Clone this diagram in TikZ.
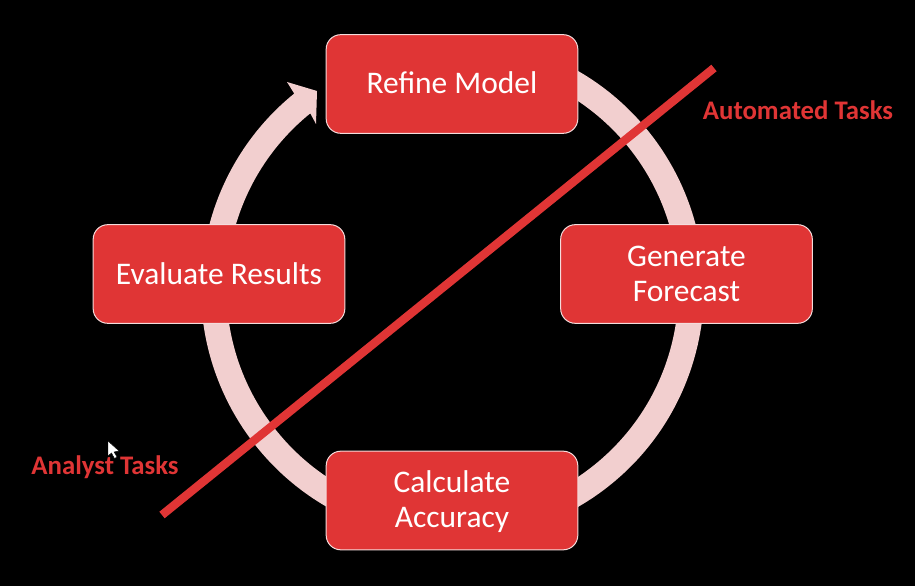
\documentclass[tikz,border=0pt]{standalone}
\usepackage{fontspec}
\setmainfont{Carlito}
\usetikzlibrary{calc}
\definecolor{boxred}{HTML}{E03535}
\definecolor{ringpink}{HTML}{F2CFCF}
\definecolor{edgepink}{HTML}{F4DCDC}
\tikzset{
  stagebox/.style={draw=edgepink,line width=0.75pt,fill=boxred,rounded corners=11pt,minimum width=188.75pt,minimum height=74pt,inner sep=0pt},
  stagetext/.style={inner sep=0pt,align=center,text=white,font=\fontsize{23.6pt}{26.4pt}\selectfont},
  tasklabel/.style={text=boxred,font=\bfseries\fontsize{20.1pt}{23pt}\selectfont,inner sep=0pt},
  divider/.style={draw=boxred,line width=6.3pt}
}
\begin{document}
\begin{tikzpicture}[x=0.75pt,y=0.75pt]
\useasboundingbox[fill=black] (0,0) rectangle (915,586);
\coordinate (c) at (452.5,297);
% ring with arrowhead
\fill[ringpink] ($(c)+(75:251.5)$) arc[start angle=75,end angle=-231,radius=251.5] -- (287,504) -- (317,495) -- (316,462) -- ($(c)+(-231:226)$) arc[start angle=-231,end angle=75,radius=226] -- cycle;
% stages
\node[stagebox] (refine) at (452,502) {};
\node[stagebox] (forecast) at (686.5,312) {};
\node[stagebox] (accuracy) at (452,85.5) {};
\node[stagebox] (evaluate) at (219,312) {};
\node[stagetext] at (452,503) {Refine Model};
\node[stagetext] at (686.5,312) {Generate\\Forecast};
\node[stagetext] at (452,84.5) {Calculate\\Accuracy};
\node[stagetext] at (219,312.5) {Evaluate Results};
% divider
\coordinate (dividerlow) at (162,71);
\coordinate (dividerhigh) at (714,518);
\draw[divider] (dividerlow) -- (dividerhigh);
\node[tasklabel] (automated) at (798,475.5) {Automated Tasks};
\node[tasklabel] (analyst) at (105,119) {Analyst Tasks};
% pointer
\fill[white,draw=black,line width=0.3pt] (108,145) -- (108,130) -- (111.5,133) -- (114.5,127.5) -- (117,129) -- (114,134) -- (119,135) -- cycle;
\end{tikzpicture}
\end{document}
